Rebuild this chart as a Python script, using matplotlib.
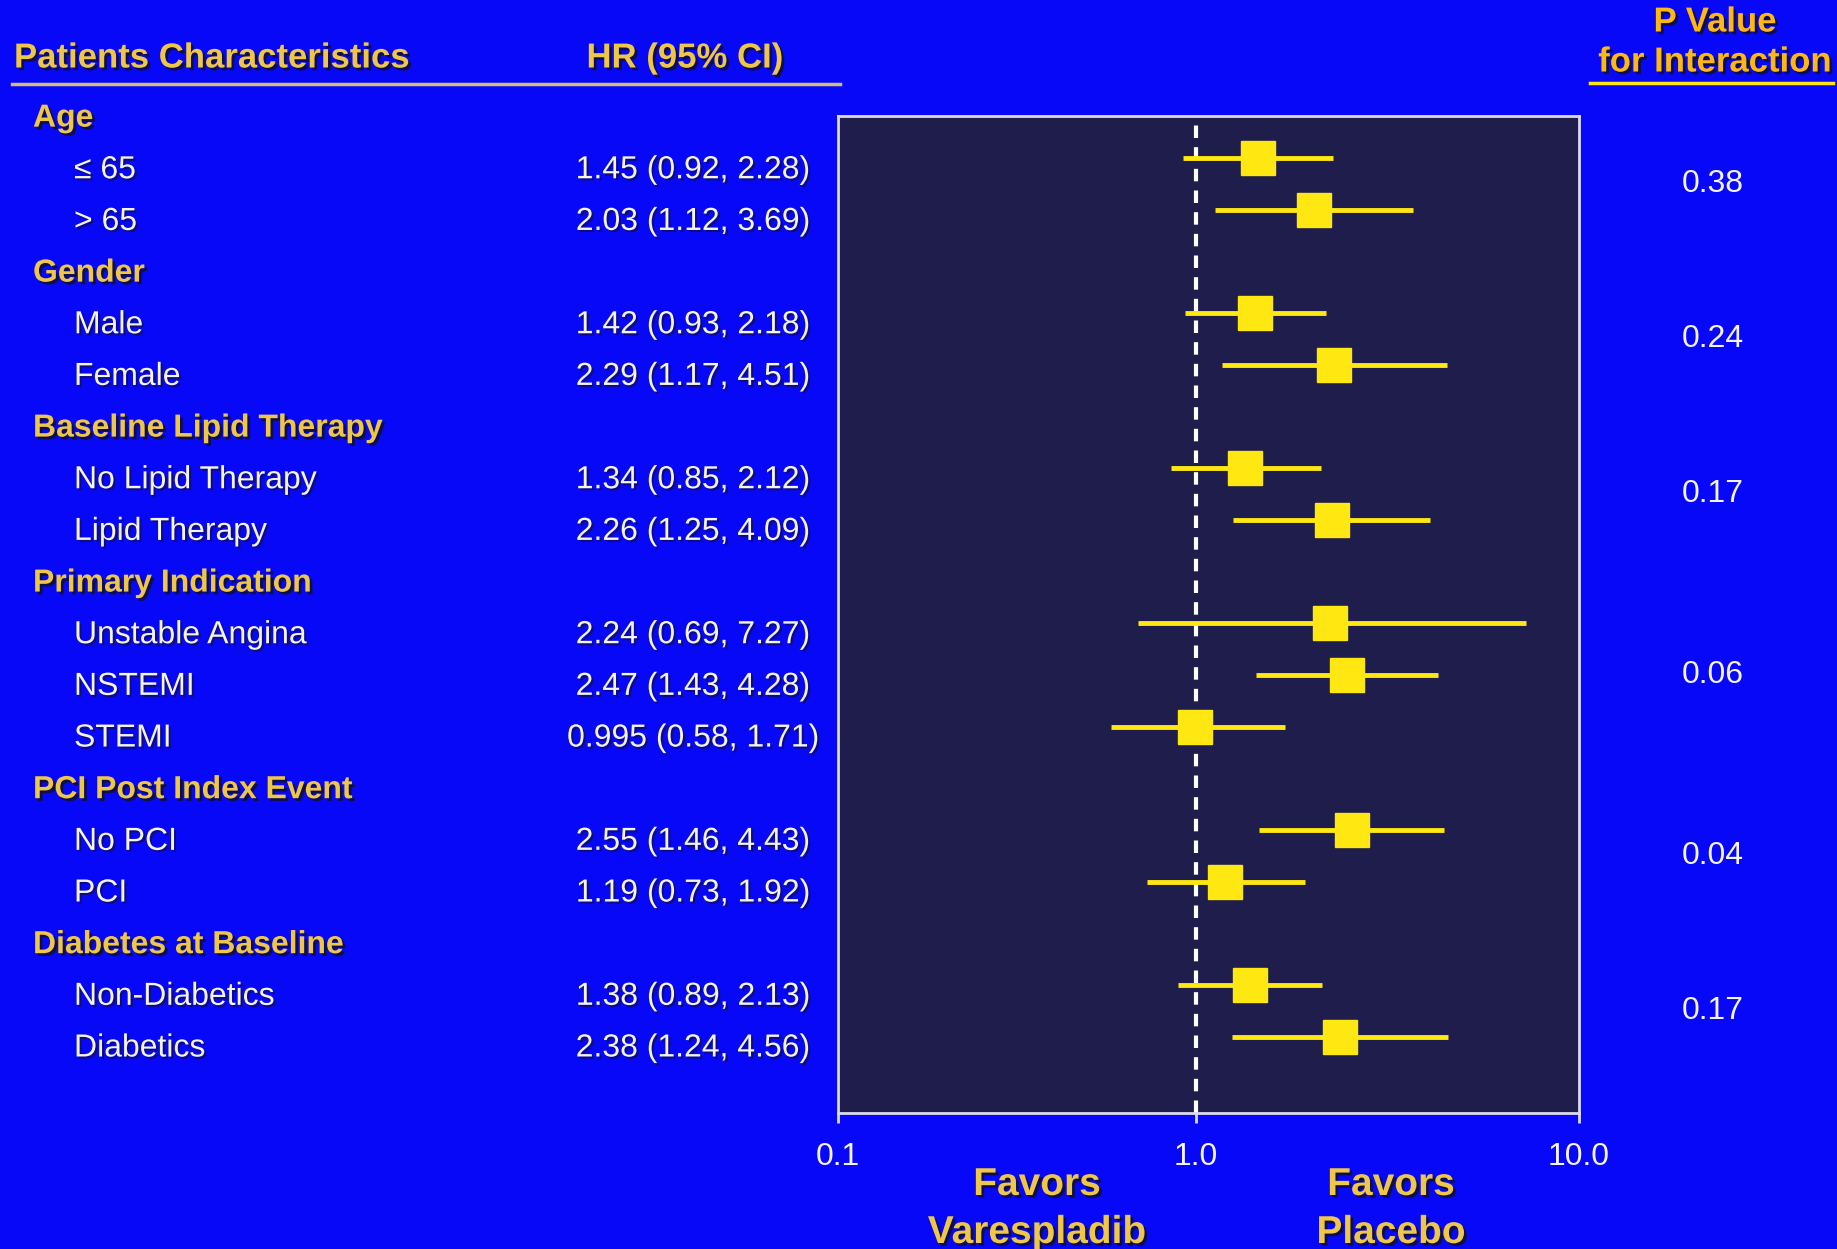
import matplotlib
matplotlib.use("Agg")
import matplotlib.pyplot as plt
import matplotlib.patheffects as pe
from matplotlib.transforms import blended_transform_factory, offset_copy
import numpy as np

plt.rcParams['font.family'] = ['Liberation Sans', 'DejaVu Sans']

# data
groups = ["Age", "Gender", "Baseline Lipid Therapy", "Primary Indication",
          "PCI Post Index Event", "Diabetes at Baseline"]
sub_labels = ["\u2264 65", "> 65", "Male", "Female", "No Lipid Therapy", "Lipid Therapy",
              "Unstable Angina", "NSTEMI", "STEMI", "No PCI", "PCI",
              "Non-Diabetics", "Diabetics"]
sub_group = [0, 0, 1, 1, 2, 2, 3, 3, 3, 4, 4, 5, 5]
hr = [1.45, 2.03, 1.42, 2.29, 1.34, 2.26, 2.24, 2.47, 0.995, 2.55, 1.19, 1.38, 2.38]
lo = [0.92, 1.12, 0.93, 1.17, 0.85, 1.25, 0.69, 1.43, 0.58, 1.46, 0.73, 0.89, 1.24]
hi = [2.28, 3.69, 2.18, 4.51, 2.12, 4.09, 7.27, 4.28, 1.71, 4.43, 1.92, 2.13, 4.56]
p_values = ["0.38", "0.24", "0.17", "0.06", "0.04", "0.17"]
xticks = [0.1, 1.0, 10.0]
xtick_labels = ["0.1", "1.0", "10.0"]

# colours
bg = "#0808F8"
panel = "#1E1D4C"
gold = "#EEC648"
orange = "#FFB812"
yellow = "#FFE812"
white = "#F4F4F4"

shadow = [pe.SimplePatchShadow(offset=(2, -2), shadow_rgbFace="#101030", alpha=0.85), pe.Normal()]
shadow_w = [pe.SimplePatchShadow(offset=(1.5, -1.5), shadow_rgbFace="#101030", alpha=0.6), pe.Normal()]

# row positions: each group header then its subgroups
group_rows = []
sub_rows = []
r = 0
for g in range(len(groups)):
    group_rows.append(r)
    r += 1
    for k in range(len(sub_labels)):
        if sub_group[k] == g:
            sub_rows.append(r)
            r += 1
sub_rows = np.array(sub_rows)


# the original axis has a slightly shorter left decade than right decade
def fwd(x):
    l = np.log10(np.clip(x, 1e-6, None))
    return np.where(l < 0, l * 306 / 327, l)


def inv(y):
    return 10 ** np.where(y < 0, y * 327 / 306, y)


fig = plt.figure(figsize=(18.37, 12.49), dpi=100, facecolor=bg)
ax = fig.add_axes([838 / 1837, 1 - 1113 / 1249, 741 / 1837, 997 / 1249])
ax.set_facecolor(panel)
ax.set_xscale("function", functions=(fwd, inv))
ax.set_xlim(0.1, 10)
ax.set_ylim(19.48, 0.18)

ax.axvline(1.0, color="white", lw=3, ls=(0, (3, 2.2)), zorder=1)
ax.hlines(sub_rows, lo, hi, color=yellow, lw=3.5, zorder=2)
ax.plot(hr, sub_rows, "s", color=yellow, markersize=24, zorder=3)

for s in ax.spines.values():
    s.set_color("#DCDCEC")
    s.set_linewidth(2)
ax.set_yticks([])
ax.set_xticks(xticks)
ax.set_xticklabels(xtick_labels)
ax.minorticks_off()
ax.tick_params(axis="x", colors="#DCDCEC", length=7, width=2, pad=14,
               labelsize=23, labelcolor=white)

# left table
trans = blended_transform_factory(fig.transFigure, ax.transData)
ttrans = offset_copy(trans, fig=fig, y=-8.6, units="points")

for g, row in zip(groups, group_rows):
    fig.text(33 / 1837, row, g, transform=ttrans, color=gold, fontsize=23,
             fontweight="bold", va="center", ha="left", path_effects=shadow)
for k, row in enumerate(sub_rows):
    fig.text(74 / 1837, row, sub_labels[k], transform=ttrans, color=white,
             fontsize=23, va="center", ha="left", path_effects=shadow_w)
    txt = f"{hr[k]:g} ({lo[k]:g}, {hi[k]:g})"
    fig.text(693 / 1837, row, txt, transform=ttrans, color=white,
             fontsize=23, va="center", ha="center", path_effects=shadow_w)

# p values at the middle of each group's rows
for g in range(len(groups)):
    rows_g = sub_rows[np.array(sub_group) == g]
    fig.text(1713 / 1837, rows_g.mean(), p_values[g], transform=trans, color=white,
             fontsize=23, va="center", ha="center")

# headers
fig.text(14 / 1837, 1 - 58 / 1249, "Patients Characteristics", color=gold,
         fontsize=25, fontweight="bold", va="center", ha="left", path_effects=shadow)
fig.text(685 / 1837, 1 - 58 / 1249, "HR (95% CI)", color=gold,
         fontsize=25, fontweight="bold", va="center", ha="center", path_effects=shadow)
fig.add_artist(plt.Line2D([12 / 1837, 840 / 1837], [1 - 84 / 1249] * 2,
                          color="#CDBE78", lw=2.5))
fig.text(1715 / 1837, 1 - 22 / 1249, "P Value", color=orange,
         fontsize=25, fontweight="bold", va="center", ha="center", path_effects=shadow)
fig.text(1715 / 1837, 1 - 62 / 1249, "for Interaction", color=orange,
         fontsize=25, fontweight="bold", va="center", ha="center", path_effects=shadow)
fig.add_artist(plt.Line2D([1590 / 1837, 1833 / 1837], [1 - 83 / 1249] * 2,
                          color=yellow, lw=2.5))

# favors labels
fig.text(1037 / 1837, 1 - 1185 / 1249, "Favors", color=gold, fontsize=28,
         fontweight="bold", va="center", ha="center", path_effects=shadow)
fig.text(1037 / 1837, 1 - 1233 / 1249, "Varespladib", color=gold, fontsize=28,
         fontweight="bold", va="center", ha="center", path_effects=shadow)
fig.text(1391 / 1837, 1 - 1185 / 1249, "Favors", color=gold, fontsize=28,
         fontweight="bold", va="center", ha="center", path_effects=shadow)
fig.text(1391 / 1837, 1 - 1233 / 1249, "Placebo", color=gold, fontsize=28,
         fontweight="bold", va="center", ha="center", path_effects=shadow)

fig.savefig("out.png", dpi=100, facecolor=bg)
